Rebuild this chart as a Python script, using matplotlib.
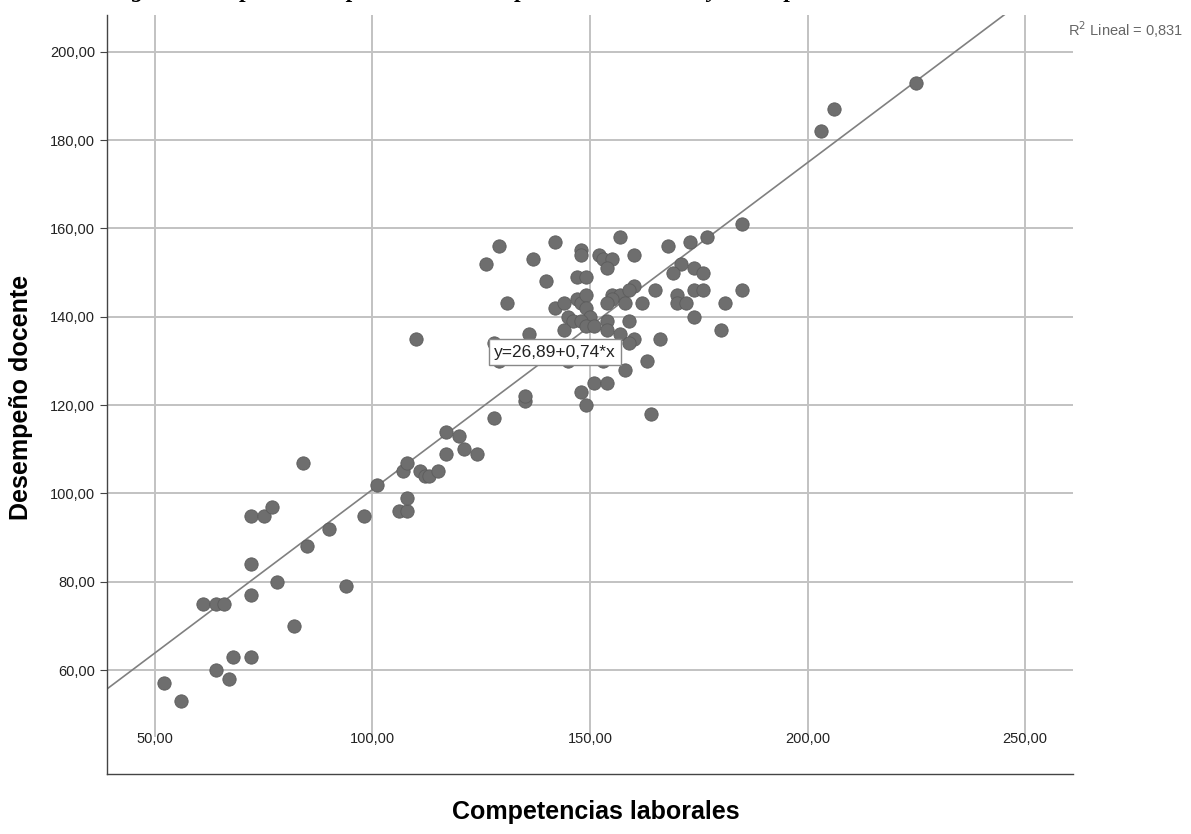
import matplotlib
matplotlib.use("Agg")
import matplotlib.pyplot as plt
import numpy as np

plt.rcParams['font.family'] = ['Liberation Sans', 'DejaVu Sans']

# puntajes
competencias = [52, 56, 61, 64, 66, 64, 67, 68, 72, 72, 72, 72, 75, 77, 78, 82, 84, 85, 90, 94,
                98, 101, 106, 108, 108, 107, 108, 110, 111, 112, 113, 115, 117, 117, 120, 121, 124,
                128, 135, 135,
                126, 129, 128, 131, 136, 137, 140, 142, 142, 144, 145, 146, 144, 147, 149, 148, 148,
                147, 148, 149, 149, 150, 148, 149, 151, 152, 153, 155, 154, 157, 160, 160, 155, 157,
                159, 155, 158, 154, 154, 159, 154, 157, 160, 159, 158, 151, 154, 148, 149, 164, 162,
                165, 163, 166, 129, 145, 153, 140, 150,
                168, 173, 177, 185, 171, 169, 174, 176, 170, 170, 172, 174, 176, 185, 181, 174, 180,
                203, 206, 225]
desempeno = [57, 53, 75, 75, 75, 60, 58, 63, 63, 77, 84, 95, 95, 97, 80, 70, 107, 88, 92, 79,
             95, 102, 96, 96, 99, 105, 107, 135, 105, 104, 104, 105, 109, 114, 113, 110, 109,
             117, 121, 122,
             152, 156, 134, 143, 136, 153, 148, 157, 142, 143, 140, 139, 137, 149, 149, 155, 154,
             144, 143, 145, 142, 140, 139, 138, 138, 154, 153, 153, 151, 158, 154, 147, 145, 145,
             146, 144, 143, 143, 139, 139, 137, 136, 135, 134, 128, 125, 125, 123, 120, 118, 143,
             146, 130, 135, 130, 130, 130, 133, 133,
             156, 157, 158, 161, 152, 150, 151, 150, 145, 143, 143, 146, 146, 146, 143, 140, 137,
             182, 187, 193]

intercepto = 26.89
pendiente = 0.74
r2 = "0,831"

x_ticks = [50, 100, 150, 200, 250]
y_ticks = [60, 80, 100, 120, 140, 160, 180, 200]

fig = plt.figure(figsize=(11.91, 8.34), dpi=100)
ax = fig.add_axes([107 / 1191, 60 / 834, 966 / 1191, 759 / 834])
ax.set_xlim(39, 261)
ax.set_ylim(36.5, 208.3)

grid_c = '#c2c2c2'
for yt in y_ticks:
    ax.axhline(yt, color=grid_c, lw=1.4, zorder=1)
for xt in x_ticks:
    ax.axvline(xt, ymin=0.05, ymax=1, color=grid_c, lw=1.4, zorder=1)

# recta de ajuste
xl = np.array([39, 261])
ax.plot(xl, intercepto + pendiente * xl, color='#808080', lw=1.2, zorder=2)

ax.scatter(competencias, desempeno, s=92, facecolor='#6e6e6e', edgecolor='#5c5c5c',
           linewidth=0.6, zorder=3)

ax.text(142, 132, "y=26,89+0,74*x", fontsize=12.5, color='#222222', ha='center', va='center',
        zorder=5, bbox=dict(boxstyle='square,pad=0.3', fc='white', ec='#888888', lw=1))

for s in ['top', 'right']:
    ax.spines[s].set_visible(False)
for s in ['left', 'bottom']:
    ax.spines[s].set_color('#444444')
    ax.spines[s].set_linewidth(1.0)

ax.set_xticks(x_ticks)
ax.set_yticks(y_ticks)
ax.set_xticklabels(["%d,00" % v for v in x_ticks])
ax.set_yticklabels(["%d,00" % v for v in y_ticks])
ax.tick_params(axis='x', length=0, pad=-30, labelsize=10.5, colors='#222222')
ax.tick_params(axis='y', length=5, color='#444444', labelsize=10.5, labelcolor='#222222')

fig.text(596 / 1191, 1 - 812 / 834, "Competencias laborales", fontsize=18, fontweight='bold',
         ha='center', va='center')
fig.text(21 / 1191, 1 - 397 / 834, "Desempeño docente", fontsize=18, fontweight='bold',
         ha='center', va='center', rotation=90)
fig.text(1068 / 1191, 1 - 30 / 834, "R$^2$ Lineal = " + r2, fontsize=10.5, color='#666666',
         ha='left', va='center')

# titulo cortado en el borde superior, como en la figura original
fig.text(110 / 1191, 1 + 3.5 / 834, "Figura 2. Dispersión de puntos entre competencias laborales y desempeño docente",
         fontsize=17, fontweight='bold', fontstyle='italic', family=['Liberation Serif', 'DejaVu Serif'],
         ha='left', va='baseline')

fig.savefig("out.png", dpi=100, facecolor='white')
